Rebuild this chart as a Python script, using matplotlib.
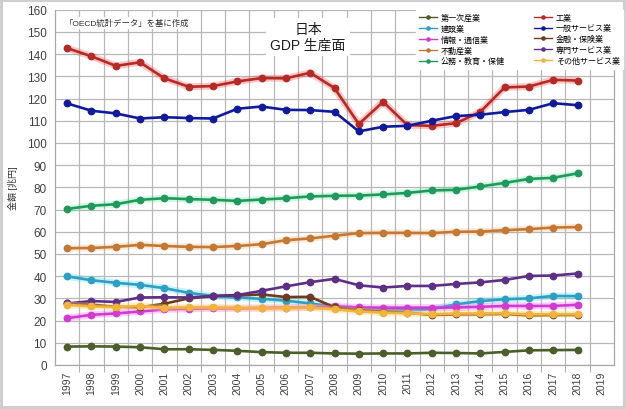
import matplotlib
matplotlib.use("Agg")
import matplotlib.pyplot as plt
import matplotlib.patheffects as pe
from matplotlib.patches import Rectangle
import numpy as np

plt.rcParams['font.family'] = ['Liberation Sans', 'Noto Sans CJK JP', 'DejaVu Sans']

years = [str(y) for y in range(1997, 2020)]

primary = [8.3, 8.4, 8.3, 8.0, 7.1, 7.1, 6.8, 6.4, 5.8, 5.5, 5.5, 5.2,
           5.1, 5.2, 5.2, 5.5, 5.4, 5.2, 5.9, 6.6, 6.7, 6.8]
industry = [142.7, 139.0, 134.7, 136.3, 129.1, 125.3, 125.6, 127.7, 129.2, 129.1, 131.6, 124.7,
            108.5, 118.5, 108.0, 107.7, 108.9, 114.0, 125.0, 125.4, 128.4, 128.1]
construction = [39.9, 38.2, 37.0, 36.1, 34.6, 32.5, 31.1, 30.4, 29.8, 29.0, 27.7, 26.3,
                25.0, 24.8, 24.6, 25.2, 27.3, 28.8, 29.6, 30.0, 31.1, 31.0]
general_service = [117.8, 114.5, 113.3, 111.0, 111.6, 111.2, 111.0, 115.4, 116.4, 114.9, 114.8, 114.0,
                   105.2, 107.3, 107.7, 110.0, 112.1, 112.7, 113.9, 114.9, 117.9, 117.0]
ict = [21.1, 22.6, 23.2, 24.1, 25.0, 25.3, 25.5, 25.5, 25.7, 25.8, 25.9, 26.4,
       25.9, 25.8, 25.8, 25.8, 25.9, 26.2, 26.6, 26.6, 26.6, 27.1]
finance = [27.8, 27.2, 26.2, 26.0, 27.6, 30.0, 31.0, 31.3, 31.8, 30.6, 30.7, 26.0,
           24.6, 24.0, 23.5, 22.5, 22.8, 22.8, 23.0, 22.3, 22.5, 22.5]
real_estate = [52.6, 52.7, 53.2, 54.1, 53.6, 53.2, 53.1, 53.6, 54.4, 56.2, 57.0, 58.2,
               59.4, 59.5, 59.5, 59.4, 60.0, 60.1, 60.7, 61.2, 61.9, 62.1]
professional = [27.7, 28.8, 28.4, 30.4, 30.5, 30.4, 31.1, 31.5, 33.4, 35.4, 37.3, 38.8,
                35.9, 34.9, 35.6, 35.6, 36.5, 37.2, 38.3, 40.1, 40.3, 41.2]
public = [70.3, 71.7, 72.4, 74.4, 75.1, 74.7, 74.4, 73.9, 74.5, 75.1, 75.9, 76.2,
          76.3, 76.8, 77.5, 78.6, 78.9, 80.4, 82.0, 83.8, 84.3, 86.3]
other_service = [27.1, 26.4, 26.1, 26.6, 25.8, 25.9, 25.9, 25.7, 25.6, 25.6, 25.9, 25.1,
                 24.1, 23.6, 23.3, 22.9, 23.2, 23.2, 23.3, 22.8, 22.9, 22.9]

series_names = ['第一次産業', '工業', '建設業', '一般サービス業', '情報・通信業',
                '金融・保険業', '不動産業', '専門サービス業', '公務・教育・保健', 'その他サービス業']
series_values = [primary, industry, construction, general_service, ict,
                 finance, real_estate, professional, public, other_service]
series_colors = ['#4b5e2a', '#b52a25', '#2f9ec4', '#101a9a', '#cf3ccf',
                 '#6e3b20', '#c47834', '#5e2f86', '#1f9a5c', '#f0b43c']
glow_colors = ['#4b5e2a', '#ff3a3a', '#40d8f0', '#101a9a', '#ff50ff',
               '#6e3b20', '#f0a050', '#5e2f86', '#30e080', '#ffd060']
glow_alpha = [0.0, 0.28, 0.28, 0.0, 0.28, 0.0, 0.22, 0.0, 0.22, 0.35]

fig = plt.figure(figsize=(6.26, 4.10), dpi=100)
fig.patch.set_facecolor('white')
ax = fig.add_axes([55/626, 1-366/410, (614-55)/626, (366-10.7)/410])

x = np.arange(len(primary))
handles = []
for name, vals, c, gc, ga in zip(series_names, series_values, series_colors, glow_colors, glow_alpha):
    if ga > 0:
        ax.plot(x, vals, color=gc, lw=5, alpha=ga, solid_capstyle='round',
                solid_joinstyle='round', zorder=3)
    h, = ax.plot(x, vals, color=c, lw=1.9, marker='o', markersize=4.6,
                 markerfacecolor=c, markeredgecolor=c, label=name, zorder=3)
    handles.append(h)

ax.set_xlim(-0.5, len(years) - 0.5)
ax.set_ylim(0, 160)
ax.set_yticks(np.arange(0, 161, 10))
ax.set_xticks(np.arange(len(years)))
ax.set_xticklabels(years, rotation=90, fontsize=7.5, color='#404040')
ax.set_xticks(np.arange(len(years) - 1) + 0.5, minor=True)
ax.tick_params(axis='x', which='major', length=0, pad=4)
ax.tick_params(axis='x', which='minor', length=5, color='#a0a0a0', direction='out')
ax.tick_params(axis='y', length=0, labelsize=8.5, labelcolor='#404040', pad=6)
ax.grid(True, axis='y', color='#b8b8b8', lw=0.9, zorder=0)
ax.grid(True, axis='x', which='minor', color='#b8b8b8', lw=0.9, zorder=0)
ax.spines['top'].set_visible(False)
for s in ['left', 'right', 'bottom']:
    ax.spines[s].set_color('#a8a8a8')
    ax.spines[s].set_linewidth(0.9)
ax.set_axisbelow(True)

ax.set_ylabel('金額 [兆円]', fontsize=6.5, color='#303030', labelpad=6)

# note
fig.text(65/626, 1-24/410, '「OECD統計データ」を基に作成', fontsize=6, color='#303030',
         va='center', ha='left',
         bbox=dict(facecolor='white', edgecolor='none', pad=1.5))
# title
fig.text(308/626, 1-38/410, '日本\nGDP 生産面', fontsize=10, color='#202020',
         va='center', ha='center', linespacing=1.2,
         bbox=dict(facecolor='white', edgecolor='none', pad=3))

# legend: reorder for row-wise appearance in 2 columns
order = [0, 2, 4, 6, 8, 1, 3, 5, 7, 9]
leg = fig.legend([handles[i] for i in order], [series_names[i] for i in order],
                 ncol=2, loc='upper left', bbox_to_anchor=(412/626, 1-7/410),
                 fontsize=5.8, frameon=True, facecolor='white', edgecolor='white',
                 framealpha=1, handlelength=2.2, handletextpad=0.5, columnspacing=3.6,
                 labelspacing=0.35, borderpad=0.4, markerscale=0.5, fancybox=False)
for lh in leg.get_lines():
    lh.set_linewidth(1.0)
leg.set_zorder(10)

# figure border
fig.patches.append(Rectangle((0.002, 0.003), 0.996, 0.994, transform=fig.transFigure,
                             fill=False, edgecolor='#cfcfcf', lw=3))

fig.savefig('out.png', dpi=100)
